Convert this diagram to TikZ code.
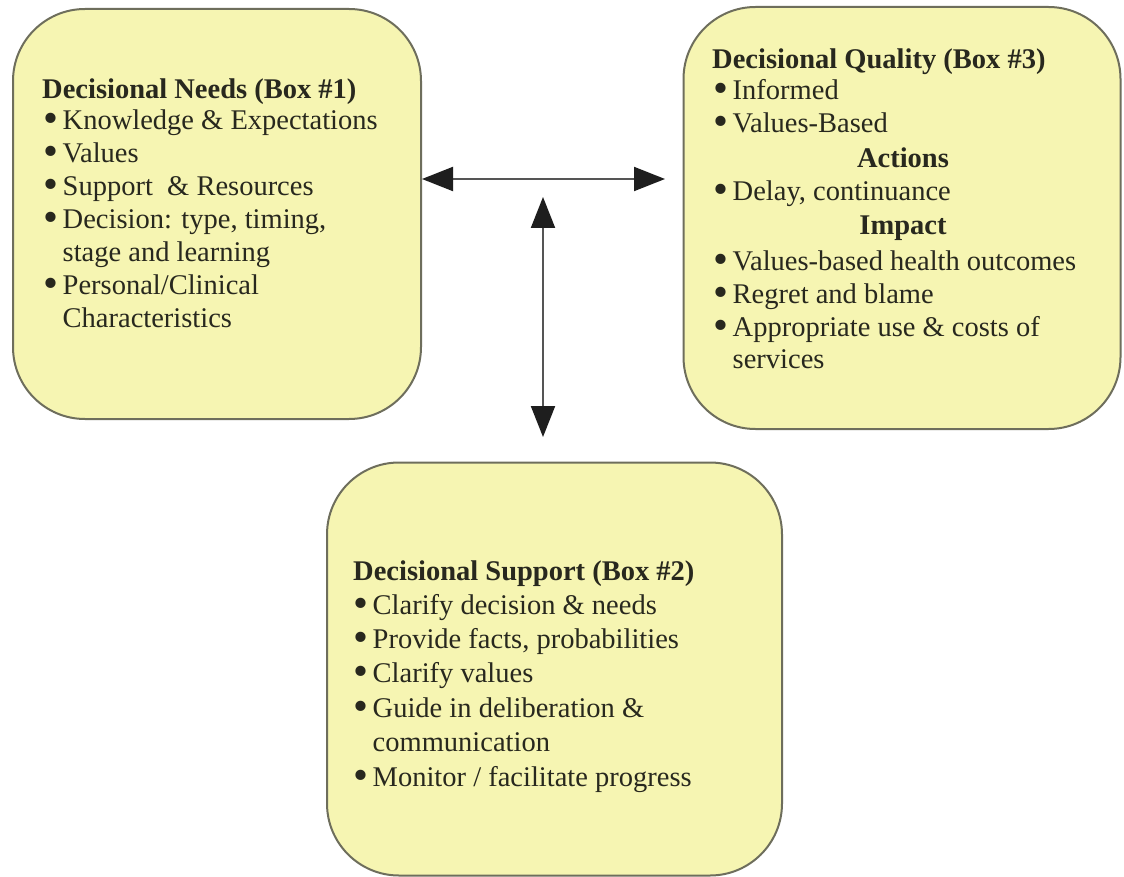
\documentclass[tikz,border=0pt]{standalone}
\usepackage{fontspec}
\setmainfont{Liberation Serif}
\usetikzlibrary{arrows.meta}
\definecolor{boxfill}{RGB}{246,245,178}
\definecolor{boxline}{RGB}{110,110,92}
\definecolor{txt}{RGB}{40,40,30}
\definecolor{arrline}{RGB}{85,85,85}
\definecolor{arrtip}{RGB}{30,30,30}
\newcommand{\bul}{\makebox[19.5pt][l]{\raisebox{-3.5pt}{\scalebox{1.5}{\textbullet}}}}
\begin{document}
\begin{tikzpicture}[x=1pt,y=-1pt,
  box/.style={draw=boxline, line width=2pt, fill=boxfill, rounded corners=72pt, inner sep=0pt},
  line/.style={anchor=mid west, inner sep=0pt, text=txt, font=\fontsize{28.5}{33}\selectfont},
  head/.style={line, font=\fontsize{28.5}{33}\selectfont\bfseries},
  chead/.style={anchor=mid, inner sep=0pt, text=txt, font=\fontsize{28.5}{33}\selectfont\bfseries},
  dbl/.style={line width=2pt, draw=arrline, {Triangle[length=31pt,width=24pt,color=arrtip]}-{Triangle[length=31pt,width=24pt,color=arrtip]}}]
\useasboundingbox (0,0) rectangle (1124,877);
\fill[white] (0,0) rectangle (1124,877);
% boxes
\node[box, minimum width=408pt, minimum height=410pt] (box1) at (217,214) {};
\node[box, minimum width=437pt, minimum height=422pt] (box3) at (902,218) {};
\node[box, minimum width=455pt, minimum height=413pt] (box2) at (554.5,669) {};
\begin{scope}[yshift=-8pt]
% box 1 text
\node[head] (b1t) at (42,88) {Decisional Needs (Box \#1)};
\node[line] (b1a) at (43,119) {\bul Knowledge \& Expectations};
\node[line] (b1b) at (43,152) {\bul Values};
\node[line] (b1c) at (43,185) {\bul Support \ \& Resources};
\node[line] (b1d) at (43,218) {\bul Decision: type, timing,};
\node[line] (b1e) at (62.5,251) {stage and learning};
\node[line] (b1f) at (43,284) {\bul Personal/Clinical};
\node[line] (b1g) at (62.5,317) {Characteristics};
% box 3 text
\node[head] (b3t) at (712,58) {Decisional Quality (Box \#3)};
\node[line] (b3a) at (713,89) {\bul Informed};
\node[line] (b3b) at (713,122) {\bul Values-Based};
\node[chead] (b3c) at (903,157) {Actions};
\node[line] (b3d) at (713,190) {\bul Delay, continuance};
\node[chead] (b3e) at (903,224) {Impact};
\node[line] (b3f) at (713,260) {\bul Values-based health outcomes};
\node[line] (b3g) at (713,293) {\bul Regret and blame};
\node[line] (b3h) at (713,326) {\bul Appropriate use \& costs of};
\node[line] (b3i) at (732.5,358) {services};
% box 2 text
\node[head] (b2t) at (353,570) {Decisional Support (Box \#2)};
\node[line] (b2a) at (353,604) {\bul Clarify decision \& needs};
\node[line] (b2b) at (353,638) {\bul Provide facts, probabilities};
\node[line] (b2c) at (353,672) {\bul Clarify values};
\node[line] (b2d) at (353,707) {\bul Guide in deliberation \&};
\node[line] (b2e) at (372.5,741) {communication};
\node[line] (b2f) at (353,776) {\bul Monitor / facilitate progress};
\end{scope}
% arrows
\coordinate (hL) at (box1.east |- 0,179);
\coordinate (hR) at (665,179);
\coordinate (vT) at (543,197);
\coordinate (vB) at (543,437);
\draw[dbl] (hL) -- (hR);
\draw[dbl] (vT) -- (vB);
\end{tikzpicture}
\end{document}
